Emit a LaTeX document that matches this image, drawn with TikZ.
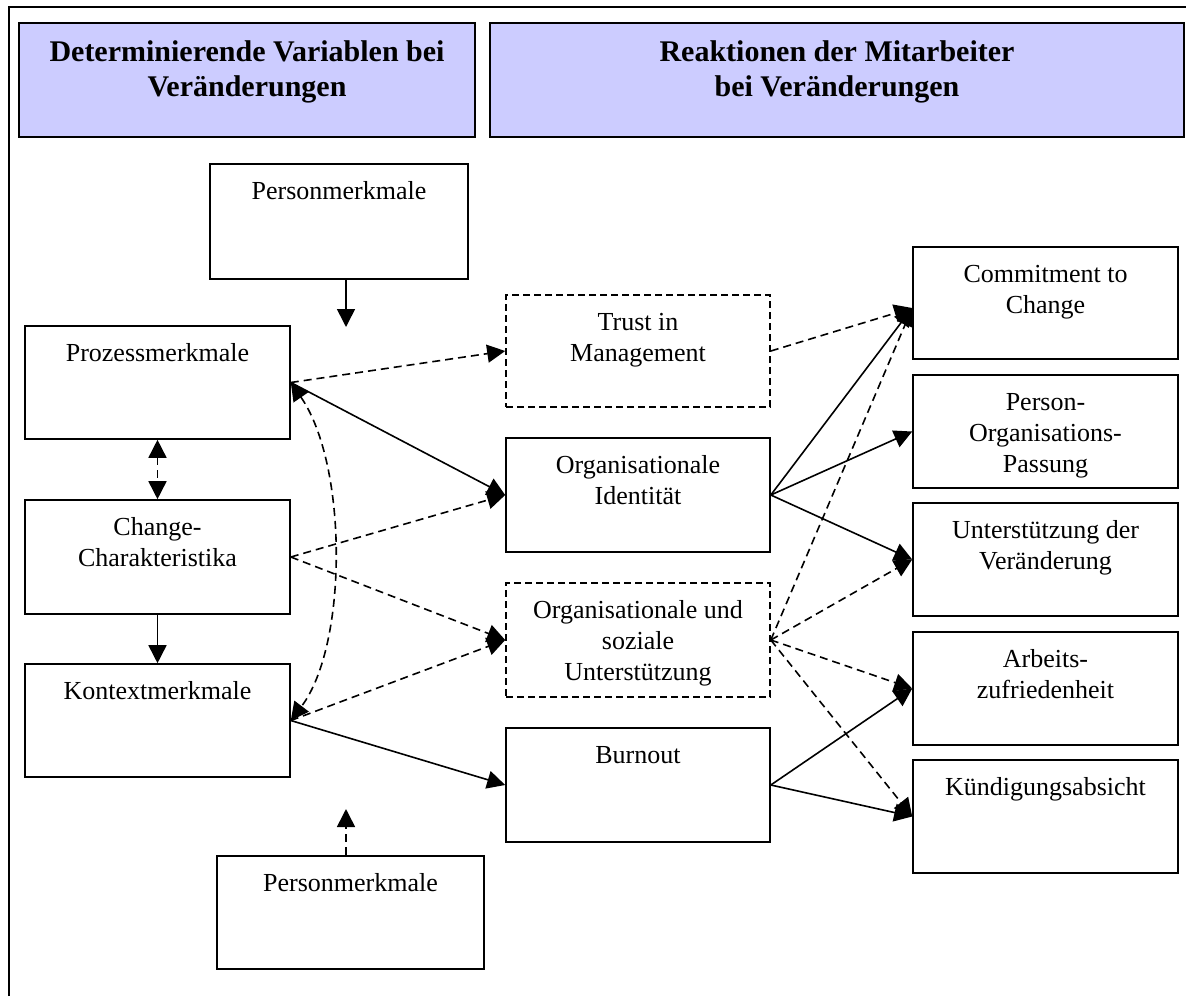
\documentclass[tikz,border=0pt]{standalone}
\usepackage{fontspec}
\setmainfont{Liberation Serif}
\usetikzlibrary{arrows.meta}
\definecolor{hdr}{HTML}{CCCCFF}
\newcommand\mybl[2]{\node[lbl] (#1t) at ([yshift=-16pt]#1.north) {\rule{0pt}{20pt}#2};}
\begin{document}
\begin{tikzpicture}[x=1pt,y=-1pt,
  >={Triangle[length=18pt,width=18pt]},
  box/.style={draw, line width=1.6pt, inner sep=0pt, minimum width=265pt, minimum height=113pt},
  dbox/.style={box, dash pattern=on 7pt off 4pt},
  hbox/.style={draw, line width=1.6pt, fill=hdr, inner sep=0pt, minimum height=114pt},
  lbl/.style={anchor=north, inner sep=0pt, align=center, font=\fontsize{26}{31}\selectfont},
  hlbl/.style={anchor=north, inner sep=0pt, align=center, font=\fontsize{30}{35}\selectfont\bfseries},
  con/.style={line width=1.6pt, ->},
  dcon/.style={con, dash pattern=on 8pt off 5pt},
]
\useasboundingbox (0,0) rectangle (1186,996);
\draw[line width=1.6pt] (9,996) -- (9,7) -- (1186,7);

% headers
\node[hbox, minimum width=456pt] (h1) at (247,80) {};
\node[hbox, minimum width=694pt] (h2) at (837,80) {};
\node[hlbl] (h1t) at ([yshift=-15.5pt]h1.north) {\rule{0pt}{24pt}Determinierende Variablen bei\\Veränderungen};
\node[hlbl] (h2t) at ([yshift=-15.5pt]h2.north) {\rule{0pt}{24pt}Reaktionen der Mitarbeiter\\bei Veränderungen};

% left column
\node[box, minimum width=258pt, minimum height=115pt] (pm1) at (339,221.5) {};
\node[box] (p) at (157.5,382.5) {};
\node[box, minimum height=114pt] (c) at (157.5,557) {};
\node[box] (k) at (157.5,720.5) {};
\node[box, minimum width=267pt] (pm2) at (350.5,912.5) {};
\mybl{pm1}{Personmerkmale}
\mybl{p}{Prozessmerkmale}
\mybl{c}{Change-\\Charakteristika}
\mybl{k}{Kontextmerkmale}
\mybl{pm2}{Personmerkmale}

% middle column
\node[dbox, minimum width=264pt, minimum height=112pt] (t) at (638,351) {};
\node[box, minimum width=264pt, minimum height=114pt] (oi) at (638,495) {};
\node[dbox, minimum width=264pt, minimum height=114pt] (ous) at (638,640) {};
\node[box, minimum width=264pt, minimum height=114pt] (b) at (638,785) {};
\mybl{t}{Trust in\\Management}
\mybl{oi}{Organisationale\\Identität}
\mybl{ous}{Organisationale und\\soziale\\Unterstützung}
\mybl{b}{Burnout}

% right column
\node[box, minimum height=112pt] (com) at (1045.5,303) {};
\node[box] (pop) at (1045.5,431.5) {};
\node[box] (u) at (1045.5,559.5) {};
\node[box] (a) at (1045.5,688.5) {};
\node[box] (kue) at (1045.5,816.5) {};
\mybl{com}{Commitment to\\Change}
\mybl{pop}{Person-\\Organisations-\\Passung}
\mybl{u}{Unterstützung der\\Veränderung}
\mybl{a}{Arbeits-\\zufriedenheit}
\mybl{kue}{Kündigungsabsicht}

% connectors left
\coordinate (pm1e) at (346,327);
\draw[con] (pm1.south -| pm1e) -- (pm1e);
\coordinate (pm2e) at (346,809);
\draw[dcon] (pm2.north -| pm2e) -- (pm2e);
\draw[dcon, <->] (p.south) -- (c.north);
\draw[con] (c.south) -- (k.north);
\draw[dcon] (p.east) -- (t.west);
\draw[con] (p.east) -- (oi.west);
\draw[dcon] (c.east) -- (oi.west);
\draw[dcon] (c.east) -- (ous.west);
\draw[dcon] (k.east) -- (ous.west);
\draw[con] (k.east) -- (b.west);
\draw[dcon, <->] (p.east) .. controls (348,465) and (348,645) .. (k.east);

% connectors right
\coordinate (comin) at ([yshift=-5pt]com.west);
\draw[dcon] (t.east) -- (comin);
\draw[con] (oi.east) -- (comin);
\draw[con] (oi.east) -- (pop.west);
\draw[con] (oi.east) -- (u.west);
\draw[dcon] (ous.east) -- (comin);
\draw[dcon] (ous.east) -- (u.west);
\draw[dcon] (ous.east) -- (a.west);
\draw[dcon] (ous.east) -- (kue.west);
\draw[con] (b.east) -- (a.west);
\draw[con] (b.east) -- (kue.west);
\end{tikzpicture}
\end{document}
